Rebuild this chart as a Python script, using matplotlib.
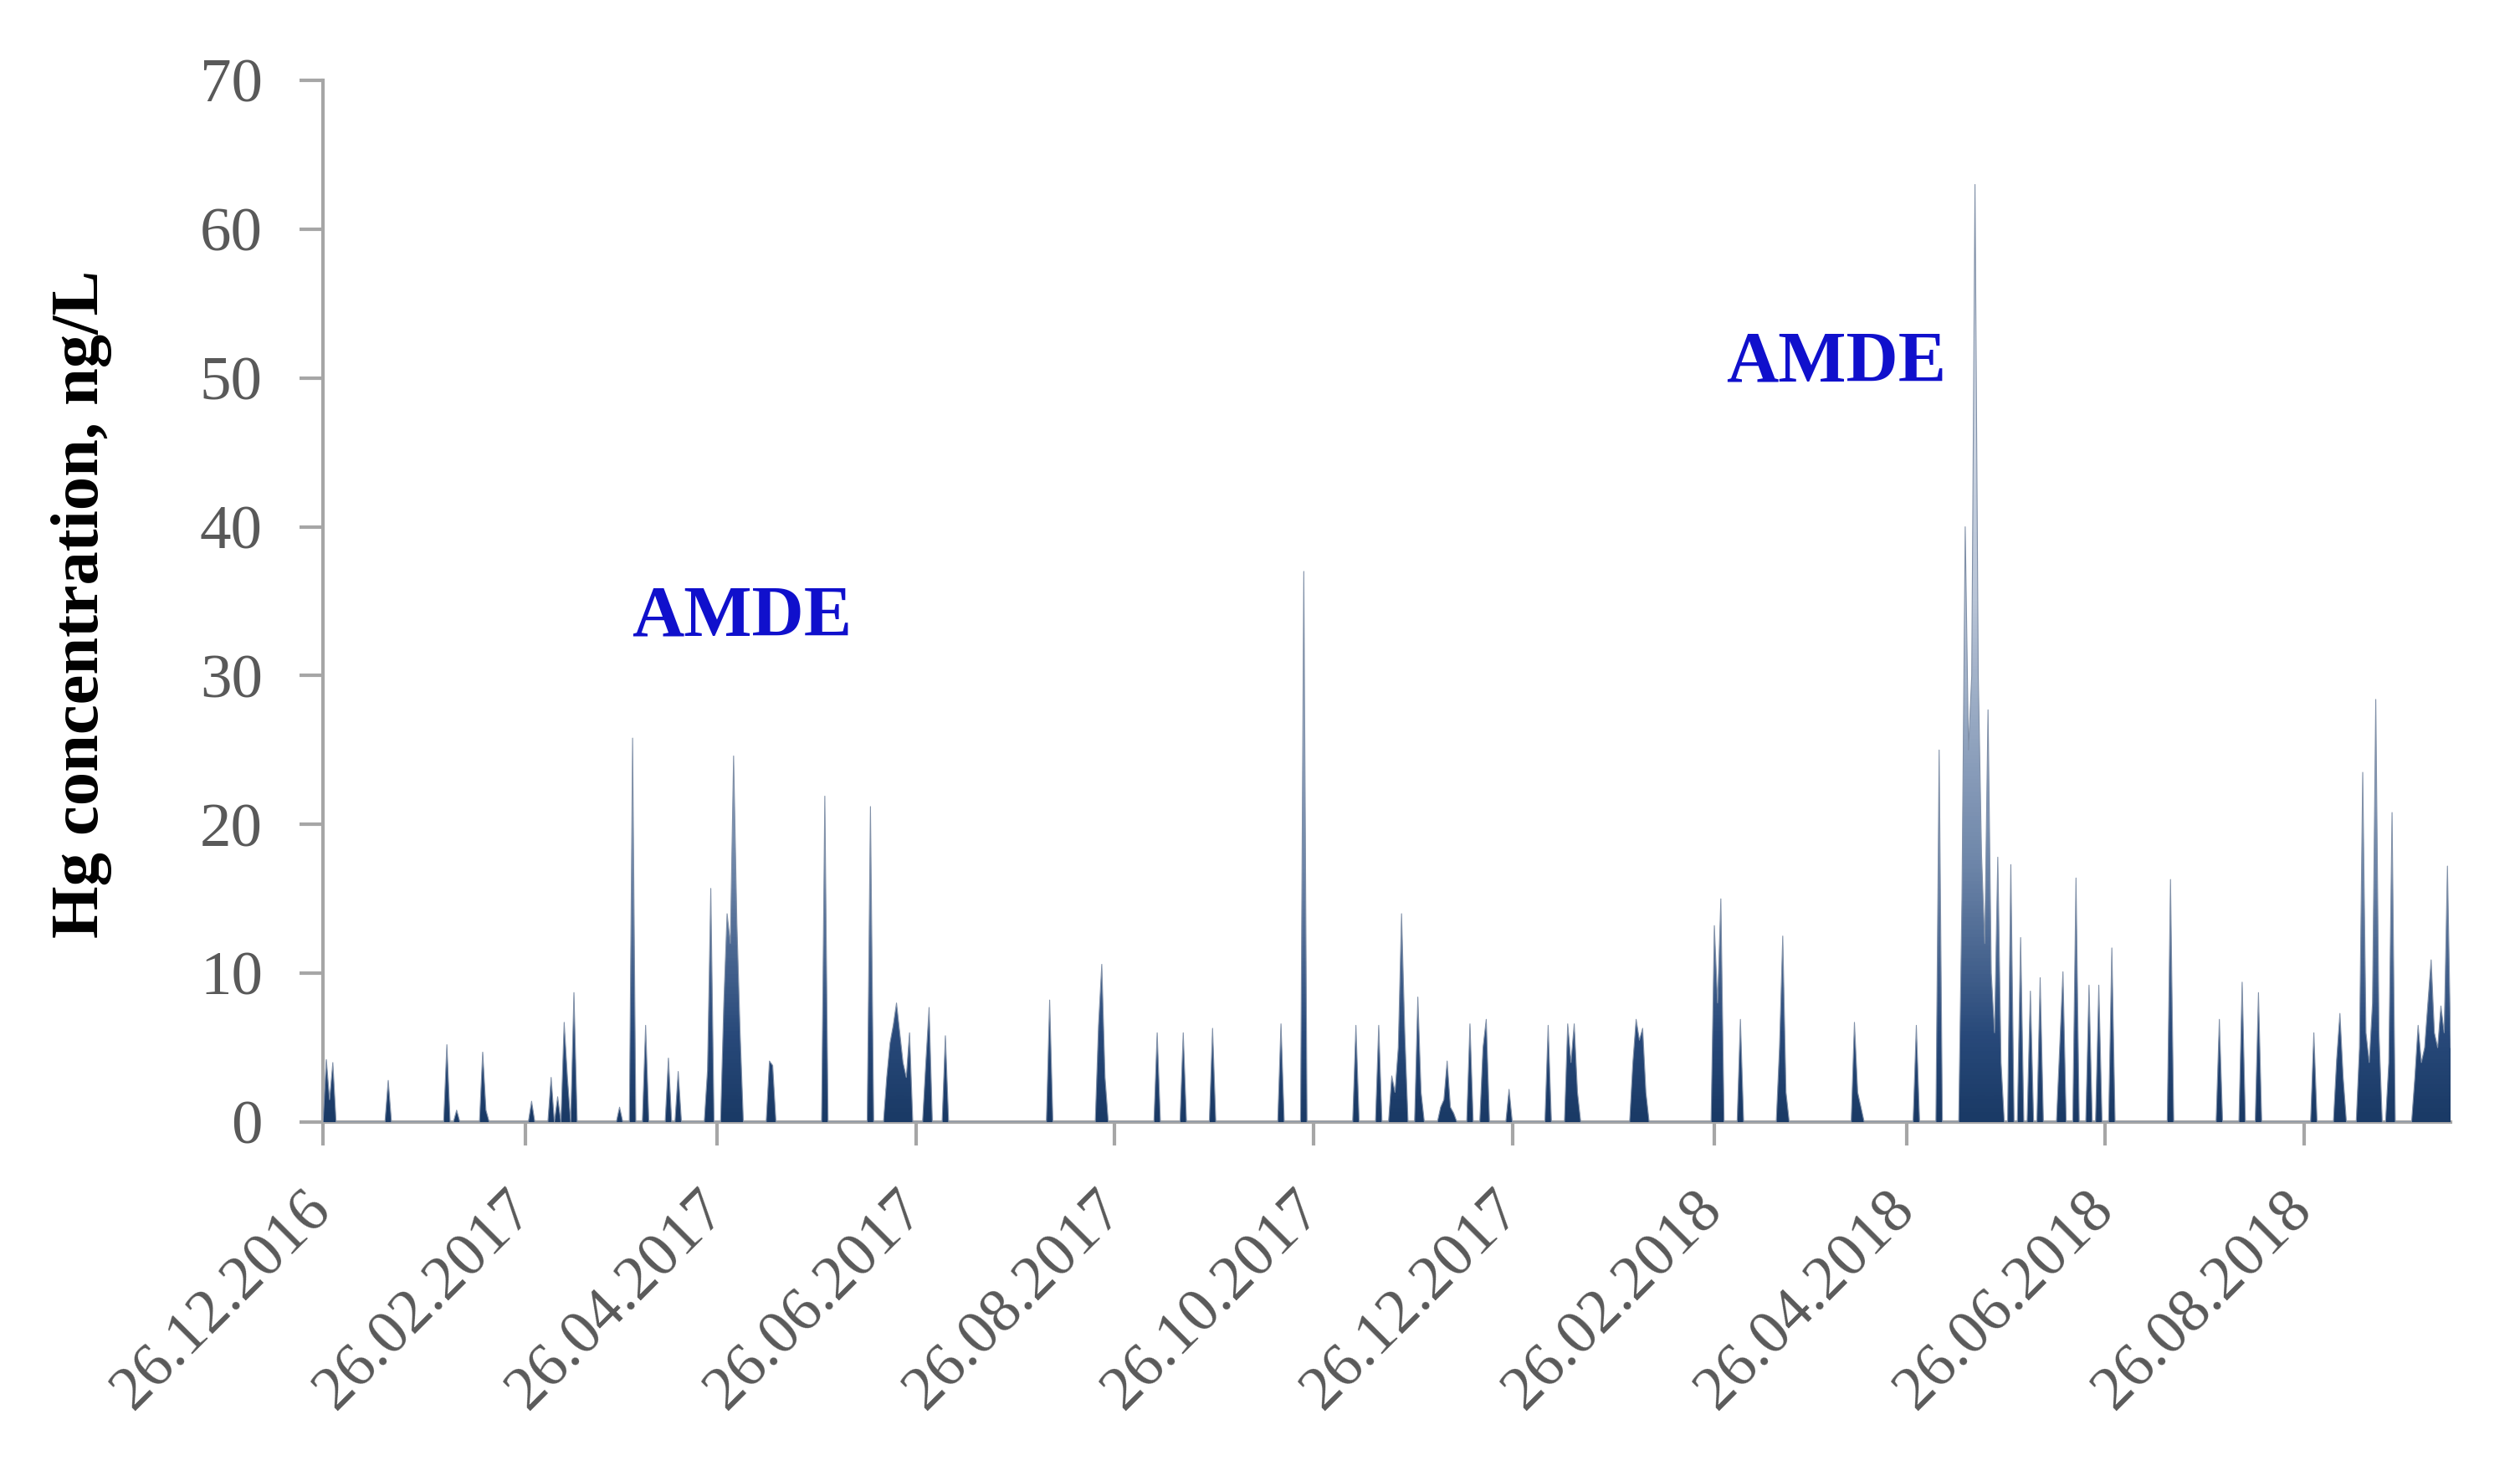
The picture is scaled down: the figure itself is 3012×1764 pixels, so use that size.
import numpy as np
import pandas as pd
import matplotlib
matplotlib.use("Agg")
import matplotlib.pyplot as plt
import matplotlib.dates as mdates
from matplotlib.colors import LinearSegmentedColormap

# measurement days with non-zero Hg (all other days are 0)
obs_dates = [
    "2016-12-27", "2016-12-28", "2016-12-29", "2017-01-15", "2017-02-02", "2017-02-05",
    "2017-02-13", "2017-02-14", "2017-02-28", "2017-03-06", "2017-03-08", "2017-03-10",
    "2017-03-11", "2017-03-13", "2017-03-27", "2017-03-31", "2017-04-04", "2017-04-11",
    "2017-04-14", "2017-04-23", "2017-04-24", "2017-04-28", "2017-04-29", "2017-04-30",
    "2017-05-01", "2017-05-02", "2017-05-03", "2017-05-12", "2017-05-13", "2017-05-29",
    "2017-06-12", "2017-06-17", "2017-06-18", "2017-06-19", "2017-06-20", "2017-06-21",
    "2017-06-22", "2017-06-23", "2017-06-24", "2017-06-29", "2017-06-30", "2017-07-05",
    "2017-08-06", "2017-08-21", "2017-08-22", "2017-08-23", "2017-09-08", "2017-09-16",
    "2017-09-25", "2017-10-16", "2017-10-23", "2017-11-08", "2017-11-15", "2017-11-19",
    "2017-11-20", "2017-11-21", "2017-11-22", "2017-11-23", "2017-11-27", "2017-11-28",
    "2017-12-04", "2017-12-05", "2017-12-06", "2017-12-07", "2017-12-08", "2017-12-13",
    "2017-12-17", "2017-12-18", "2017-12-25", "2018-01-06", "2018-01-12", "2018-01-13",
    "2018-01-14", "2018-01-15", "2018-02-01", "2018-02-02", "2018-02-03", "2018-02-04",
    "2018-02-05", "2018-02-26", "2018-02-27", "2018-02-28", "2018-03-06", "2018-03-18",
    "2018-03-19", "2018-03-20", "2018-04-10", "2018-04-11", "2018-04-12", "2018-04-29",
    "2018-05-06", "2018-05-13", "2018-05-14", "2018-05-15", "2018-05-16", "2018-05-17",
    "2018-05-18", "2018-05-19", "2018-05-20", "2018-05-21", "2018-05-22", "2018-05-23",
    "2018-05-24", "2018-05-25", "2018-05-28", "2018-05-31", "2018-06-03", "2018-06-06",
    "2018-06-12", "2018-06-13", "2018-06-17", "2018-06-21", "2018-06-24", "2018-06-28",
    "2018-07-16", "2018-07-31", "2018-08-07", "2018-08-12", "2018-08-29", "2018-09-05",
    "2018-09-06", "2018-09-07", "2018-09-12", "2018-09-13", "2018-09-14", "2018-09-15",
    "2018-09-16", "2018-09-17", "2018-09-18", "2018-09-21", "2018-09-22", "2018-09-29",
    "2018-09-30", "2018-10-01", "2018-10-02", "2018-10-03", "2018-10-04", "2018-10-05",
    "2018-10-06", "2018-10-07", "2018-10-08", "2018-10-09", "2018-10-10",
]
hg_values = [
    4.2, 1.5, 4.0, 2.8, 5.2, 0.8,
    4.7, 0.8, 1.4, 3.0, 1.7, 6.7,
    3.0, 8.7, 1.0, 25.8, 6.5, 4.3,
    3.4, 3.5, 15.7, 8.0, 14.0, 12.0,
    24.6, 13.4, 6.0, 4.1, 3.8, 21.9,
    21.2, 3.0, 5.3, 6.5, 8.0, 6.0,
    4.0, 3.0, 6.0, 4.0, 7.7, 5.8,
    8.2, 6.5, 10.6, 3.0, 6.0, 6.0,
    6.3, 6.6, 37.0, 6.5, 6.5, 3.1,
    2.0, 5.0, 14.0, 6.0, 8.4, 2.0,
    1.0, 1.5, 4.1, 1.0, 0.6, 6.6,
    5.0, 6.9, 2.2, 6.5, 6.6, 4.0,
    6.6, 2.0, 4.0, 6.9, 5.5, 6.3,
    2.0, 13.2, 8.0, 15.0, 6.9, 5.0,
    12.5, 2.0, 6.7, 2.0, 1.0, 6.5,
    25.0, 15.0, 40.0, 25.0, 30.0, 63.0,
    30.0, 18.0, 12.0, 27.7, 10.0, 6.0,
    17.8, 4.0, 17.3, 12.4, 8.8, 9.7,
    5.0, 10.1, 16.4, 9.2, 9.2, 11.7,
    16.3, 6.9, 9.4, 8.7, 6.0, 4.2,
    7.3, 3.0, 5.0, 23.5, 6.0, 4.0,
    8.0, 28.4, 6.0, 4.0, 20.8, 3.0,
    6.5, 4.0, 5.0, 8.0, 10.9, 6.0,
    5.0, 7.8, 6.0, 17.2, 5.0,
]

start_date = "2016-12-26"
end_date = "2018-10-10"
tick_dates = ["2016-12-26", "2017-02-26", "2017-04-26", "2017-06-26", "2017-08-26",
              "2017-10-26", "2017-12-26", "2018-02-26", "2018-04-26", "2018-06-26",
              "2018-08-26"]
notes = ["AMDE", "AMDE"]
note_dates = ["2017-05-03 12:00", "2018-04-04 12:00"]
note_y = [32.7, 49.8]

# daily series, zero where nothing was detected
days = pd.date_range(start_date, end_date, freq="D")
series = pd.Series(hg_values, index=pd.to_datetime(obs_dates)).reindex(days, fill_value=0.0)

fig = plt.figure(figsize=(15.06, 8.82), dpi=200)
ax = fig.add_axes([0.1282, 0.2398, 0.8443, 0.7058])

x0, x1 = pd.Timestamp(start_date), pd.Timestamp(end_date)

# area with a vertical gradient fill (dark at the base, lighter upwards)
area = ax.fill_between(series.index, 0, series.values, facecolor="none", edgecolor="none")
cmap = LinearSegmentedColormap.from_list(
    "hg", [(0.0, "#1a3a66"), (0.08, "#28497a"), (0.25, "#6f87aa"),
           (0.5, "#b9c5d7"), (1.0, "#eef1f6")])
grad = np.linspace(0, 1, 256).reshape(-1, 1)
im = ax.imshow(grad, extent=[mdates.date2num(x0), mdates.date2num(x1), 0, 70],
               origin="lower", aspect="auto", cmap=cmap, interpolation="bicubic", zorder=2)
im.set_clip_path(area.get_paths()[0], transform=ax.transData)
ax.plot(series.index, series.values, color="#8090a8", lw=0.4, zorder=3)

ax.set_xlim(x0, x1)
ax.set_ylim(0, 70)
ax.set_yticks(range(0, 71, 10))
ax.set_xticks(pd.to_datetime(tick_dates))
ax.xaxis.set_major_formatter(mdates.DateFormatter("%d.%m.%Y"))

for s in ["top", "right"]:
    ax.spines[s].set_visible(False)
for s in ["left", "bottom"]:
    ax.spines[s].set_color("#a6a6a6")
    ax.spines[s].set_linewidth(1.5)
    ax.spines[s].set_zorder(1)

ax.tick_params(axis="both", colors="#a6a6a6", width=1.5, length=10, direction="out")
ax.tick_params(axis="y", pad=16, labelsize=27, labelcolor="#595959")
ax.tick_params(axis="x", pad=24, labelsize=27, labelcolor="#595959")
for lab in ax.get_xticklabels():
    lab.set_fontfamily("Liberation Serif")
    lab.set_rotation(45)
    lab.set_ha("right")
    lab.set_va("center")
    lab.set_rotation_mode("anchor")
for lab in ax.get_yticklabels():
    lab.set_fontfamily("Liberation Serif")

ax.set_ylabel("Hg concentration, ng/L", fontsize=29, fontweight="bold",
              fontfamily="Liberation Serif", color="black")
ax.yaxis.set_label_coords(-0.099, 0.497)

for txt, d, y in zip(notes, note_dates, note_y):
    ax.text(pd.Timestamp(d), y, txt, fontsize=31, fontweight="bold", color="#1010cc",
            fontfamily="Liberation Serif", ha="center", va="baseline")

fig.savefig("out.png", dpi=200, facecolor="white")
